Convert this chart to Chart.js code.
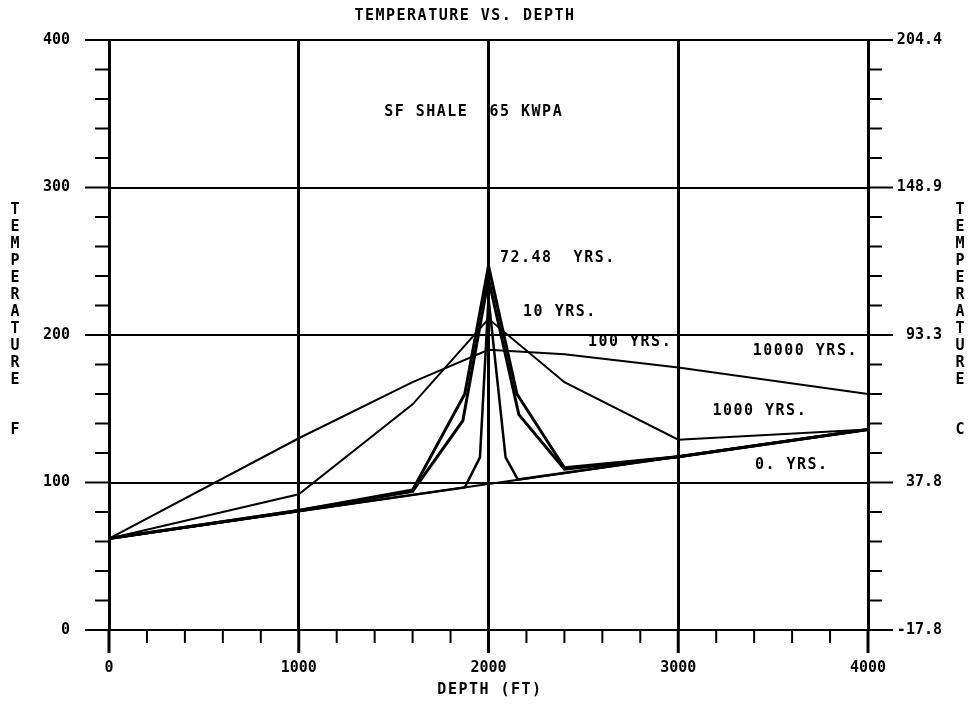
<!DOCTYPE html>
<html>
<head>
<meta charset="utf-8">
<script src="https://cdn.jsdelivr.net/npm/chart.js@4.4.1/dist/chart.umd.min.js"></script>
<style>
  html, body { margin:0; padding:0; background:#fff; }
</style>
</head>
<body>
<canvas id="chart" width="969" height="706"></canvas>
<script>
// depth (ft) and temperature (F) of each curve
const depth0 = [0, 4000];
const temp0 = [62, 136];
const depth10 = [0, 1875, 1955, 2000, 2090, 2155, 4000];
const temp10 = [62, 96.7, 117, 225, 117, 102, 136];
const depth72 = [0, 1000, 1600, 1875, 2000, 2150, 2400, 3000, 4000];
const temp72 = [62, 81, 95, 160, 247, 160, 110, 117.5, 136];
const depth100 = [0, 1000, 1600, 1865, 2000, 2160, 2400, 3000, 4000];
const temp100 = [62, 81, 94, 142, 238, 146, 109, 117.5, 136];
const depth1000 = [0, 1000, 1600, 2000, 2400, 3000, 4000];
const temp1000 = [62, 92, 153, 211, 168, 129, 136];
const depth10000 = [0, 1000, 1600, 2000, 2400, 3000, 4000];
const temp10000 = [62, 130, 168, 190, 187, 178, 160];

const curveNames = ['72.48  YRS.', '10 YRS.', '100 YRS.', '10000 YRS.', '1000 YRS.', '0. YRS.'];
const note = 'SF SHALE  65 KWPA';
const chartTitle = 'TEMPERATURE VS. DEPTH';
const xTitle = 'DEPTH (FT)';
const yTitle = 'TEMPERATURE';

const pts = (xs, ys) => xs.map((d, i) => ({ x: d, y: ys[i] }));
const FONT = '"DejaVu Sans Mono", monospace';

// where the curve names sit, in data units (depth, F)
const namePos = [[2060, 252], [2182, 215.5], [2524, 195], [3392, 189], [3180, 148.5], [3404, 112]];

const decor = {
  id: 'decor',
  afterDraw(chart){
    const { ctx, chartArea: a } = chart;
    const x = chart.scales.x, y = chart.scales.y;
    ctx.save();
    ctx.strokeStyle = '#000';
    const seg = (x1, y1, x2, y2) => { ctx.beginPath(); ctx.moveTo(x1, y1); ctx.lineTo(x2, y2); ctx.stroke(); };
    for (let v = 0; v <= 4000; v += 200){
      const px = x.getPixelForValue(v), major = v % 1000 === 0;
      ctx.lineWidth = major ? 3 : 2;
      seg(px, a.bottom, px, a.bottom + (major ? 23 : 13));
    }
    for (let v = 0; v <= 400; v += 20){
      const py = y.getPixelForValue(v), major = v % 100 === 0;
      ctx.lineWidth = 2;
      seg(a.left - (major ? 24 : 14), py, a.left, py);
      seg(a.right, py, a.right + (major ? 25 : 14), py);
    }

    ctx.fillStyle = '#000';
    ctx.font = 'bold 15px ' + FONT;
    ctx.textBaseline = 'middle';
    ctx.letterSpacing = '1.5px';
    ctx.textAlign = 'left';
    curveNames.forEach((t, i) => {
      ctx.fillText(t, x.getPixelForValue(namePos[i][0]), y.getPixelForValue(namePos[i][1]));
    });
    ctx.fillText(note, x.getPixelForValue(1450), y.getPixelForValue(351));

    ctx.textAlign = 'center';
    ctx.fillText(chartTitle, 465, 16);
    ctx.fillText(xTitle, 490, 690);

    ctx.letterSpacing = '0px';
    [...yTitle].forEach((c, i) => {
      ctx.fillText(c, 15, 210 + i * 17);
      ctx.fillText(c, 960, 210 + i * 17);
    });
    ctx.fillText('F', 15, 430);
    ctx.fillText('C', 960, 430);
    ctx.restore();
  }
};

const line = (data, w) => ({ data, borderColor: '#000', borderWidth: w, pointRadius: 0, showLine: true, tension: 0, fill: false });
const tickFont = { family: FONT, weight: 'bold', size: 15 };
const clear = 'rgba(0,0,0,0)';

new Chart(document.getElementById('chart'), {
  type: 'scatter',
  data: {
    datasets: [
      line(pts(depth0, temp0), 2),
      line(pts(depth10, temp10), 2.5),
      line(pts(depth72, temp72), 3),
      line(pts(depth100, temp100), 3),
      line(pts(depth1000, temp1000), 2),
      line(pts(depth10000, temp10000), 2)
    ]
  },
  options: {
    responsive: false,
    animation: false,
    layout: { padding: { top: 40, right: 27, bottom: 0, left: 0 } },
    plugins: { legend: { display: false }, tooltip: { enabled: false } },
    scales: {
      x: {
        type: 'linear', min: 0, max: 4000,
        afterFit(s){ s.height = 76; },
        ticks: { stepSize: 200, autoSkip: false, maxRotation: 0, padding: 0, color: '#000', font: tickFont,
          callback: v => v % 1000 === 0 ? String(v) : '' },
        grid: { tickLength: 29, tickColor: clear,
          color: c => c.tick && c.tick.value % 1000 === 0 ? '#000' : clear,
          lineWidth: c => c.tick && c.tick.value % 1000 === 0 ? 3 : 0 },
        border: { color: '#000', width: 2 }
      },
      y: {
        position: 'left', min: 0, max: 400,
        afterFit(s){ s.width = 109; },
        ticks: { stepSize: 20, autoSkip: false, padding: 0, color: '#000', font: tickFont,
          callback: v => v % 100 === 0 ? String(v) : '' },
        grid: { tickLength: 39, tickColor: clear,
          color: c => c.tick && c.tick.value % 100 === 0 ? '#000' : clear,
          lineWidth: c => c.tick && c.tick.value % 100 === 0 ? 2 : 0 },
        border: { color: '#000', width: 3 }
      },
      y2: {
        position: 'right', min: 0, max: 400,
        afterFit(s){ s.width = 74; },
        ticks: { stepSize: 20, autoSkip: false, crossAlign: 'far', padding: 0, color: '#000', font: tickFont,
          callback: v => v % 100 === 0 ? ((v - 32) * 5 / 9).toFixed(1) : '' },
        grid: { drawOnChartArea: false, drawTicks: false },
        border: { color: '#000', width: 3 }
      }
    }
  },
  plugins: [decor]
});
</script>
</body>
</html>
